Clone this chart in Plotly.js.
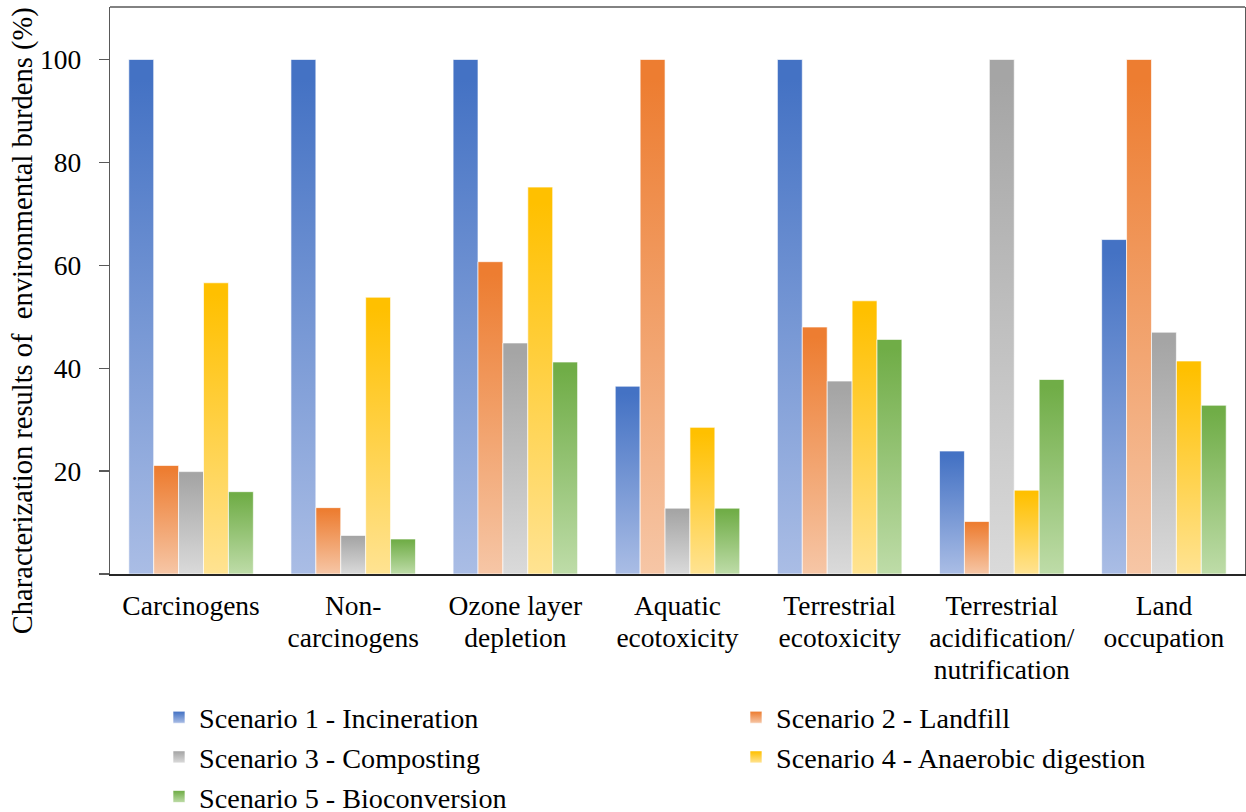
<!DOCTYPE html>
<html>
<head>
<meta charset="utf-8">
<script src="https://cdn.plot.ly/plotly-3.0.1.min.js"></script>
<style>
  html, body { margin: 0; padding: 0; background: #ffffff; }
  #chart { width: 1246px; height: 812px; }
</style>
</head>
<body>
<div id="chart"></div>
<script>
// Impact categories shown along the x axis
const categories = [
  'Carcinogens',
  'Non-<br>carcinogens',
  'Ozone layer<br>depletion',
  'Aquatic<br>ecotoxicity',
  'Terrestrial<br>ecotoxicity',
  'Terrestrial<br>acidification/<br>nutrification',
  'Land<br>occupation'
];

// Scenario names (legend entries)
const scenarioNames = [
  'Scenario 1 - Incineration',
  'Scenario 2 - Landfill',
  'Scenario 3 - Composting',
  'Scenario 4 - Anaerobic digestion',
  'Scenario 5 - Bioconversion'
];

// Characterization results (%) per scenario, one value per category
const incineration  = [100, 100, 100, 36.5, 100, 23.9, 65.0];
const landfill      = [21.1, 12.9, 60.7, 100, 48.0, 10.2, 100];
const composting    = [19.9, 7.5, 44.9, 12.8, 37.5, 100, 47.0];
const anaerobic     = [56.6, 53.8, 75.2, 28.5, 53.1, 16.3, 41.4];
const bioconversion = [16.0, 6.8, 41.2, 12.8, 45.6, 37.8, 32.8];

const seriesValues = [incineration, landfill, composting, anaerobic, bioconversion];

// Gradient colours: full colour at the top of each bar, light tint at the bottom
const topColors    = ['#4472C4', '#ED7D31', '#A5A5A5', '#FFC000', '#70AD47'];
const bottomColors = ['#AABDE5', '#F6C6A6', '#DADADA', '#FFE392', '#BEDCA8'];

// Value axis ticks
const yTickVals = [0, 20, 40, 60, 80, 100];
const yTickText = ['', '20', '40', '60', '80', '100'];

const FONT = '"Liberation Serif", "Times New Roman", serif';

const traces = seriesValues.map((vals, i) => ({
  type: 'bar',
  name: scenarioNames[i],
  x: categories,
  y: vals,
  marker: {
    color: topColors[i],
    line: { color: 'rgba(255,255,255,0.65)', width: 1 }
  },
  hoverinfo: 'skip'
}));

const layout = {
  width: 1246,
  height: 812,
  margin: { l: 110, r: 1, t: 7, b: 238, pad: 0, autoexpand: false },
  paper_bgcolor: '#ffffff',
  plot_bgcolor: '#ffffff',
  barmode: 'group',
  bargap: 0.232,
  bargroupgap: 0,
  showlegend: true,
  font: { family: FONT, color: '#000000', size: 27.5 },
  xaxis: {
    type: 'category',
    showgrid: false,
    zeroline: false,
    showline: true,
    linecolor: '#262626',
    linewidth: 1.5,
    ticks: '',
    ticklabelstandoff: 6,
    automargin: false,
    tickfont: { family: FONT, size: 27.5, color: '#000000' },
    fixedrange: true
  },
  yaxis: {
    range: [0, 110.2],
    tickmode: 'array',
    tickvals: yTickVals,
    ticktext: yTickText,
    ticks: 'outside',
    ticklen: 10,
    tickwidth: 1.3,
    tickcolor: '#595959',
    ticklabelstandoff: 12,
    automargin: false,
    showgrid: false,
    zeroline: false,
    showline: true,
    linecolor: '#595959',
    linewidth: 1.3,
    mirror: true,
    tickfont: { family: FONT, size: 27.5, color: '#000000' },
    fixedrange: true
  },
  shapes: [{
    type: 'line', xref: 'paper', yref: 'paper',
    x0: 0, x1: 1, y0: 1, y1: 1,
    line: { color: '#595959', width: 1.3 }
  }],
  annotations: [{
    text: 'Characterization results of \u00a0environmental burdens (%)',
    textangle: -90,
    xref: 'paper', yref: 'paper',
    x: -0.077, y: 0.447,
    xanchor: 'center', yanchor: 'middle',
    showarrow: false,
    font: { family: FONT, size: 28.5, color: '#000000' }
  }],
  legend: {
    orientation: 'h',
    x: -0.0141,
    xanchor: 'left',
    y: -0.2088,
    yanchor: 'top',
    entrywidth: 467,
    entrywidthmode: 'pixels',
    indentation: 65,
    bgcolor: 'rgba(0,0,0,0)',
    borderwidth: 0,
    font: { family: FONT, size: 28.2, color: '#000000' }
  }
};

// Fill bars and legend swatches with vertical gradients, and tighten
// the line spacing of multi-line category labels.
function finishStyling(gd) {
  const ns = 'http://www.w3.org/2000/svg';
  const svg = gd.querySelector('svg.main-svg');
  let defs = svg.querySelector('defs');
  if (!defs) { defs = document.createElementNS(ns, 'defs'); svg.insertBefore(defs, svg.firstChild); }
  topColors.forEach((c, i) => {
    const g = document.createElementNS(ns, 'linearGradient');
    g.setAttribute('id', 'barfill' + i);
    g.setAttribute('x1', '0'); g.setAttribute('y1', '0');
    g.setAttribute('x2', '0'); g.setAttribute('y2', '1');
    [[0, c], [0.04, c], [1, bottomColors[i]]].forEach(([off, col]) => {
      const s = document.createElementNS(ns, 'stop');
      s.setAttribute('offset', off);
      s.setAttribute('stop-color', col);
      g.appendChild(s);
    });
    defs.appendChild(g);
  });
  gd.querySelectorAll('.barlayer .trace.bars').forEach((tr, i) => {
    tr.querySelectorAll('path').forEach(p => { p.style.fill = 'url(#barfill' + i + ')'; });
  });
  gd.querySelectorAll('.legend .traces').forEach((tr, i) => {
    tr.querySelectorAll('.legendpoints path').forEach(p => { p.style.fill = 'url(#barfill' + i + ')'; });
  });
  gd.querySelectorAll('.xtick text tspan.line').forEach(t => {
    const dy = parseFloat(t.getAttribute('dy'));
    if (dy) t.setAttribute('dy', (dy / 1.3 * 1.175) + 'em');
  });
}

Plotly.newPlot('chart', traces, layout, { displayModeBar: false, staticPlot: true })
  .then(finishStyling);
</script>
</body>
</html>
